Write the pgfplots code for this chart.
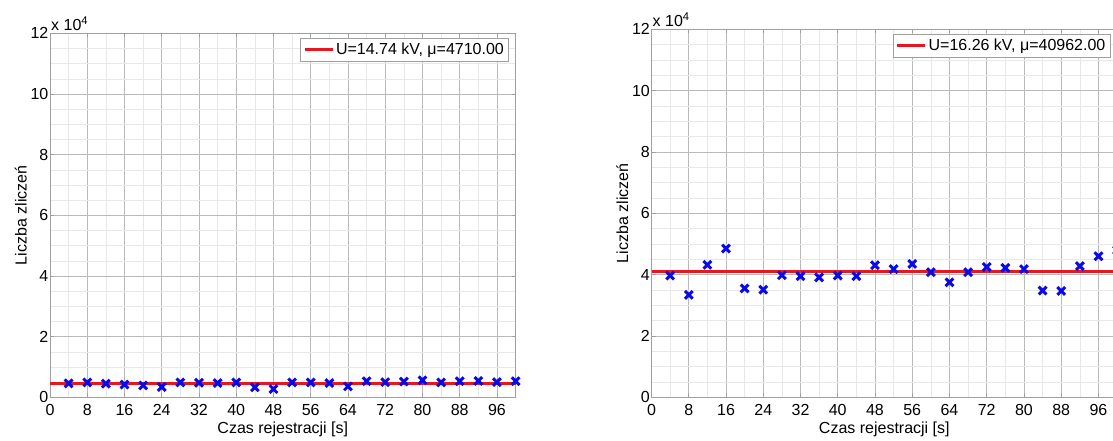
\documentclass[border=0pt]{standalone}
\usepackage{pgfplots}
\pgfplotsset{compat=1.18}
\usepackage{fontspec}
\setmainfont{Liberation Sans}
\definecolor{mred}{RGB}{232,22,30}
\definecolor{mblue}{RGB}{10,10,230}
\pgfplotstableread{
t n
4 4600
8 4900
12 4500
16 4200
20 3900
24 3400
28 4900
32 4800
36 4700
40 4900
44 3300
48 2700
52 4900
56 4900
60 4700
64 3600
68 5300
72 5000
76 5200
80 5600
84 4900
88 5300
92 5400
96 5000
100 5300
}\lefttab
\pgfplotstableread{
t n
4 39700
8 33400
12 43200
16 48500
20 35500
24 35100
28 39800
32 39500
36 39100
40 39700
44 39500
48 43100
52 41800
56 43500
60 40800
64 37500
68 40800
72 42500
76 42200
80 41800
84 34800
88 34700
92 42800
96 46000
100 48000
}\righttab
\pgfplotsset{
  myax/.style={
    scale only axis,
    width=465.6pt,
    clip=false,
    xmin=0, xmax=100, ymin=0, ymax=120000,
    xtick={0,8,16,24,32,40,48,56,64,72,80,88,96},
    xticklabels={0,8,16,24,32,40,48,56,64,72,80,88,96},
    minor x tick num=1,
    ytick={0,20000,40000,60000,80000,100000,120000},
    yticklabels={0,2,4,6,8,10,12},
    minor y tick num=3,
    scaled y ticks=false,
    grid=both,
    major grid style={gray!55, line width=0.6pt},
    minor grid style={gray!18, line width=0.5pt},
    axis line style={gray!75, line width=0.6pt},
    tick style={gray!75, line width=0.6pt},
    major tick length=4pt, minor tick length=0pt,
    yticklabel style={inner sep=1.5pt},
    xticklabel style={inner sep=1.5pt, yshift=-5pt},
    xlabel={Czas rejestracji [s]},
    ylabel={Liczba zliczeń},
    xlabel style={at={(rel axis cs:0.5,0)}, anchor=north, inner sep=0pt, yshift=-24pt},
    ylabel style={inner sep=2pt},
    legend style={at={(rel axis cs:1,1)}, anchor=north east, xshift=-7pt, yshift=-5pt,
      draw=gray!75, inner sep=2.5pt, row sep=0pt, cells={anchor=west}},
    legend image code/.code={\draw[#1, mark=none] (0pt,0pt) -- (28pt,0pt);},
  }
}
\begin{document}
\fontsize{16}{18}\selectfont
\begin{tikzpicture}
\useasboundingbox (0,0) rectangle (1113pt,440pt);
\clip (0,0) rectangle (1113pt,440pt);
\begin{axis}[myax, height=364pt, at={(50pt,42.7pt)}, anchor=south west]
\addplot[mred, line width=3pt] coordinates {(0,4710) (100,4710)};
\addlegendentry{U=14.74 kV, μ=4710.00}
\addplot[only marks, mark=x, mark size=5.5pt, mblue, mark options={line width=3pt}, forget plot] table[x=t,y=n] {\lefttab};
\node[anchor=south west, inner sep=1pt, yshift=1pt] at (rel axis cs:0,1) {x 10\textsuperscript{4}};
\end{axis}
\begin{axis}[myax, height=368pt, at={(651.5pt,42.7pt)}, anchor=south west]
\addplot[mred, line width=3pt] coordinates {(0,40962) (100,40962)};
\addlegendentry{U=16.26 kV, μ=40962.00}
\addplot[only marks, mark=x, mark size=5.5pt, mblue, mark options={line width=3pt}, forget plot] table[x=t,y=n] {\righttab};
\node[anchor=south west, inner sep=1pt, yshift=1pt] at (rel axis cs:0,1) {x 10\textsuperscript{4}};
\end{axis}
\end{tikzpicture}
\end{document}
